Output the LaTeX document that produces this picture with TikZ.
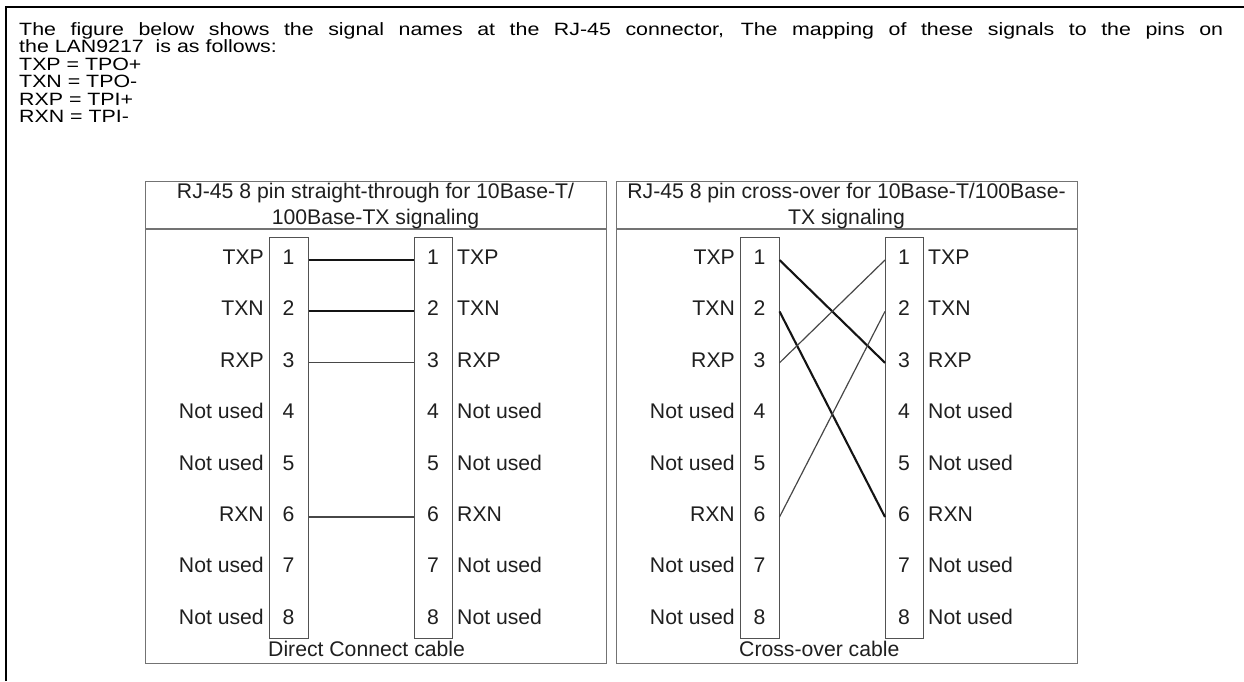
\documentclass[tikz,border=0pt]{standalone}
\usepackage{fontspec}
\setmainfont{Liberation Sans}
\newfontfamily\widefont[FakeStretch=1.2]{Liberation Sans}
\newcommand{\rjpanel}[4]{%
\begin{scope}[xshift=#2]
  \node[frame, anchor=north west, minimum width=461pt, minimum height=482pt] (#1frame) at (0,181) {};
  \draw[frame] (0,229) -- (461,229);
  \node[lbl, align=center, font=\fontsize{21.2}{26}\selectfont] (#1head) at (230.5,206) {#3};
  \node[pinbox, anchor=north west, minimum width=39pt, minimum height=401pt] (#1LB) at (124,237) {};
  \node[pinbox, anchor=north west, minimum width=38pt, minimum height=401pt] (#1RB) at (269,237) {};
  \foreach \i/\s in {1/TXP,2/TXN,3/RXP,4/Not used,5/Not used,6/RXN,7/Not used,8/Not used}{
    \pgfmathsetmacro{\yy}{257+51.4*(\i-1)}
    \node[lbl, anchor=base east] (#1ls\i) at (119,\yy+7.5) {\s};
    \node[lbl, anchor=base] (#1ln\i) at (143.5,\yy+7.5) {\i};
    \node[lbl, anchor=base] (#1rn\i) at (288,\yy+7.5) {\i};
    \node[lbl, anchor=base west] (#1rs\i) at (312,\yy+7.5) {\s};
    \coordinate (#1L\i) at (163.5,\yy+3);
    \coordinate (#1R\i) at (269,\yy+3);
  }
  \node[lbl, anchor=base west] (#1foot) at (123,656) {#4};
\end{scope}}
\begin{document}
\begin{tikzpicture}[x=1pt,y=-1pt,
  frame/.style={draw=black!55, line width=1.4pt, inner sep=0pt},
  pinbox/.style={draw=black!68, line width=1.4pt, inner sep=0pt},
  thickwire/.style={line width=2.1pt, draw=black!92},
  thinwire/.style={line width=1.2pt, draw=black!72},
  lbl/.style={font=\fontsize{21.2}{25}\selectfont, text=black!88, inner sep=0pt},
  maintxt/.style={font=\widefont\fontsize{17.8}{20}\selectfont, text=black, inner sep=0pt, anchor=base west},
]
\useasboundingbox (0,0) rectangle (1244,681);
\draw[line width=2.2pt] (6,681) -- (6,7) -- (1244,7);

\node[maintxt] (t1) at (19,35) {\makebox[1204pt][s]{The figure below shows the signal names at the RJ-45 connector, The mapping of these signals to the pins on}};
\node[maintxt] (t2) at (19,52.5) {the LAN9217\ \ is as follows:};
\node[maintxt] (t3) at (19,70) {TXP = TPO+};
\node[maintxt] (t4) at (19,87.5) {TXN = TPO-};
\node[maintxt] (t5) at (19,105) {RXP = TPI+};
\node[maintxt] (t6) at (19,122.5) {RXN = TPI-};

\rjpanel{a}{145pt}{RJ-45 8 pin straight-through for 10Base-T/\\100Base-TX signaling}{Direct Connect cable}
\rjpanel{b}{616pt}{RJ-45 8 pin cross-over for 10Base-T/100Base-\\TX signaling}{Cross-over cable}

\draw[thickwire] (aL1) -- (aR1);
\draw[thickwire] (aL2) -- (aR2);
\draw[thinwire] (aL3) -- (aR3);
\draw[thinwire] (aL6) -- (aR6);

\draw[thickwire] (bL1) -- (bR3);
\draw[thickwire] (bL2) -- (bR6);
\draw[thinwire] (bL3) -- (bR1);
\draw[thinwire] (bL6) -- (bR2);
\end{tikzpicture}
\end{document}
